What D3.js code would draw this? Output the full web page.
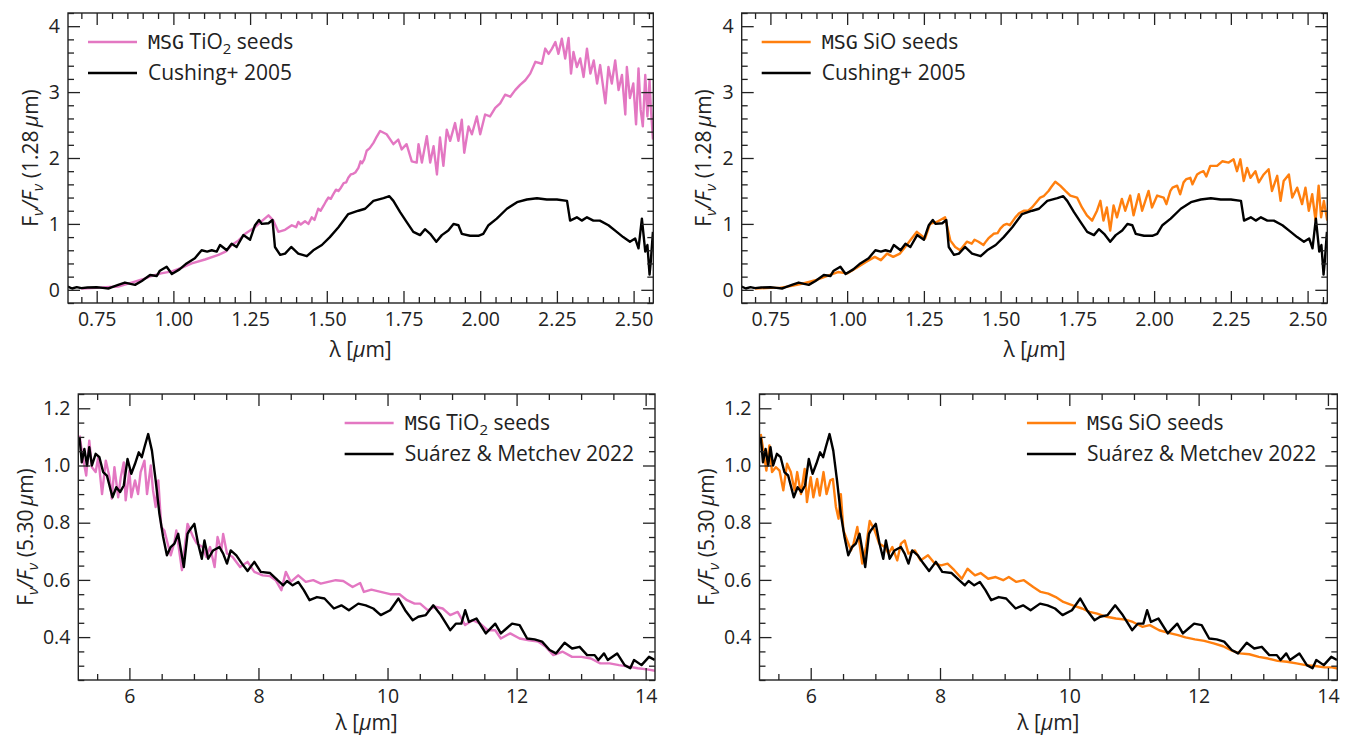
<!DOCTYPE html>
<html>
<head>
<meta charset="utf-8">
<script src="https://cdn.jsdelivr.net/npm/d3@7"></script>
<style>
  body { margin: 0; background: #fff; }
  svg text { font-family: "Open Sans", Lato, "DejaVu Sans", sans-serif; fill: #222; }
  .mono { font-family: "DejaVu Sans Mono", "Liberation Mono", monospace; }
</style>
</head>
<body>
<svg id="fig" width="1349" height="738"></svg>
<script>
// Cushing+ 2005 near-IR spectrum, normalised at 1.28 um  [lambda (um), F]
const cushing2005 = [
  [0.656,0.05],[0.67,0.02],[0.685,0.04],[0.70,0.025],[0.72,0.035],[0.75,0.04],[0.77,0.03],[0.788,0.02],
  [0.80,0.04],[0.82,0.075],[0.842,0.11],[0.86,0.09],[0.875,0.075],[0.897,0.135],[0.924,0.225],[0.946,0.21],
  [0.956,0.29],[0.978,0.35],[0.995,0.24],[1.02,0.31],[1.043,0.40],[1.07,0.48],[1.092,0.60],[1.11,0.58],
  [1.125,0.60],[1.141,0.58],[1.152,0.68],[1.174,0.60],[1.19,0.70],[1.206,0.65],[1.228,0.83],[1.25,0.76],
  [1.266,0.98],[1.279,1.06],[1.288,1.00],[1.31,1.01],[1.323,1.06],[1.331,0.65],[1.348,0.53],[1.364,0.55],
  [1.384,0.65],[1.407,0.55],[1.435,0.51],[1.456,0.60],[1.484,0.68],[1.51,0.80],[1.538,0.95],[1.57,1.15],
  [1.603,1.20],[1.625,1.23],[1.652,1.35],[1.685,1.39],[1.704,1.42],[1.717,1.35],[1.739,1.18],[1.76,1.03],
  [1.782,0.88],[1.804,0.83],[1.82,0.92],[1.837,0.85],[1.857,0.73],[1.875,0.83],[1.896,0.90],[1.913,1.00],
  [1.929,0.98],[1.94,0.85],[1.967,0.82],[1.994,0.82],[2.01,0.85],[2.027,0.98],[2.054,1.08],[2.087,1.23],
  [2.12,1.33],[2.152,1.37],[2.185,1.39],[2.217,1.37],[2.25,1.37],[2.283,1.35],[2.293,1.05],[2.315,1.10],
  [2.331,1.05],[2.348,1.10],[2.369,1.05],[2.39,1.05],[2.418,0.98],[2.445,0.88],[2.466,0.80],[2.488,0.73],
  [2.505,0.78],[2.516,0.63],[2.527,1.08],[2.538,0.58],[2.545,0.68],[2.552,0.23],[2.556,0.43],[2.563,0.88]
];

// MSG model with TiO2 seeds, near-IR
const msgTiO2Nir = [
  [0.70,0.02],[0.75,0.03],[0.78,0.04],[0.82,0.05],[0.864,0.11],[0.90,0.16],[0.929,0.21],[0.96,0.25],
  [0.995,0.28],[1.03,0.34],[1.06,0.40],[1.103,0.46],[1.147,0.53],[1.17,0.58],[1.19,0.68],[1.21,0.74],
  [1.234,0.85],[1.266,0.95],[1.29,1.05],[1.31,1.13],[1.326,1.05],[1.342,0.88],[1.364,0.91],[1.386,0.98],
  [1.40,0.95],[1.407,1.03],[1.415,0.99],[1.429,1.04],[1.44,1.00],[1.451,1.10],[1.46,1.06],[1.472,1.23],
  [1.48,1.20],[1.49,1.28],[1.497,1.34],[1.505,1.40],[1.513,1.38],[1.52,1.44],[1.53,1.52],[1.538,1.50],
  [1.546,1.55],[1.555,1.62],[1.563,1.63],[1.57,1.70],[1.578,1.75],[1.585,1.76],[1.593,1.78],[1.603,1.85],
  [1.61,1.95],[1.615,1.92],[1.622,1.98],[1.63,2.11],[1.64,2.15],[1.652,2.23],[1.66,2.30],[1.674,2.41],
  [1.695,2.36],[1.717,2.21],[1.733,2.28],[1.744,2.13],[1.76,2.21],
  [1.777,1.95],[1.793,1.93],[1.799,2.21],[1.81,1.93],[1.826,2.33],[1.837,1.93],[1.848,2.18],[1.859,1.75],
  [1.869,2.31],[1.88,1.88],[1.891,2.43],[1.902,2.26],[1.918,2.53],[1.929,2.26],[1.94,2.58],[1.948,2.08],
  [1.962,2.48],[1.973,2.36],[1.989,2.63],[2.0,2.36],[2.016,2.66],[2.032,2.63],[2.049,2.76],[2.065,2.83],
  [2.081,2.96],[2.098,2.93],[2.114,3.03],[2.13,3.11],[2.147,3.18],[2.163,3.28],[2.18,3.46],[2.201,3.43],
  [2.212,3.66],[2.223,3.58],[2.234,3.66],[2.245,3.76],[2.255,3.58],[2.266,3.81],[2.277,3.51],[2.288,3.82],
  [2.296,3.28],[2.304,3.61],[2.315,3.38],[2.326,3.51],[2.337,3.23],[2.348,3.66],[2.359,3.28],[2.37,3.48],
  [2.381,3.13],[2.391,3.41],[2.408,2.83],[2.418,3.38],[2.429,3.13],[2.44,3.48],[2.451,3.03],[2.462,3.26],
  [2.473,2.66],[2.478,3.38],[2.488,2.91],[2.499,3.13],[2.508,2.51],[2.516,3.36],[2.523,2.73],[2.53,2.48],
  [2.538,3.26],[2.545,2.63],[2.552,3.18],[2.556,2.78],[2.563,2.28]
];

// MSG model with SiO seeds, near-IR
const msgSiONir = [
  [0.70,0.02],[0.75,0.03],[0.78,0.03],[0.82,0.06],[0.86,0.10],[0.90,0.15],[0.94,0.22],[0.97,0.27],
  [1.0,0.25],[1.03,0.33],[1.06,0.42],[1.09,0.50],[1.11,0.45],[1.13,0.55],[1.15,0.50],[1.172,0.55],
  [1.194,0.68],[1.227,0.88],[1.254,0.78],[1.27,1.00],[1.292,1.03],[1.319,1.10],[1.336,0.75],[1.352,0.65],
  [1.368,0.60],[1.39,0.73],[1.406,0.70],[1.415,0.76],[1.428,0.73],[1.444,0.68],[1.45,0.72],[1.46,0.78],
  [1.47,0.82],[1.477,0.85],[1.49,0.86],[1.499,0.93],[1.51,0.98],[1.52,1.00],[1.53,0.98],[1.548,1.10],
  [1.56,1.16],[1.575,1.20],[1.59,1.20],[1.602,1.25],[1.615,1.32],[1.629,1.40],[1.64,1.42],[1.656,1.50],
  [1.665,1.56],[1.678,1.64],[1.694,1.58],
  [1.711,1.50],[1.727,1.43],[1.749,1.40],[1.765,1.25],[1.781,1.13],[1.798,1.05],[1.814,1.20],[1.825,1.35],
  [1.835,1.05],[1.846,1.25],[1.857,0.90],[1.868,1.28],[1.879,1.10],[1.895,1.38],[1.906,1.20],[1.922,1.43],
  [1.933,1.13],[1.95,1.45],[1.961,1.20],[1.982,1.50],[1.993,1.25],[2.01,1.43],[2.031,1.40],[2.04,1.30],
  [2.053,1.50],[2.06,1.55],[2.075,1.58],[2.085,1.45],[2.096,1.63],[2.105,1.68],[2.118,1.70],[2.125,1.60],
  [2.14,1.75],[2.15,1.78],[2.161,1.80],[2.17,1.72],[2.183,1.88],[2.205,1.88],[2.222,1.95],[2.243,1.93],
  [2.259,1.98],[2.27,1.80],[2.281,1.98],[2.292,1.65],[2.303,1.85],[2.314,1.70],[2.33,1.80],[2.341,1.63],
  [2.357,1.75],[2.373,1.83],[2.384,1.50],[2.401,1.73],[2.412,1.35],[2.422,1.65],[2.439,1.75],[2.45,1.40],
  [2.466,1.55],[2.482,1.30],[2.493,1.55],[2.504,1.20],[2.515,1.45],[2.526,1.05],[2.536,1.58],[2.544,1.10],
  [2.553,1.35],[2.564,1.05]
];

// Suarez & Metchev 2022 mid-IR spectrum, normalised at 5.30 um
const suarez2022 = [
  [5.227,1.099],[5.262,1.011],[5.302,1.058],[5.343,1.0],[5.378,1.064],[5.419,1.0],[5.477,1.041],[5.535,1.029],
  [5.593,0.977],[5.651,0.965],[5.738,0.889],[5.797,0.924],[5.855,0.907],[5.913,0.93],[5.971,1.023],[6.029,0.971],
  [6.087,1.006],[6.145,1.046],[6.192,1.029],[6.233,1.064],[6.291,1.11],[6.349,1.052],[6.407,0.948],[6.465,0.831],
  [6.523,0.75],[6.581,0.686],[6.64,0.715],[6.698,0.727],[6.756,0.761],[6.843,0.645],[6.901,0.761],[6.93,0.773],
  [7.006,0.796],[7.064,0.727],[7.122,0.674],[7.163,0.738],[7.221,0.674],[7.297,0.703],[7.395,0.715],[7.453,0.692],
  [7.512,0.657],[7.57,0.703],[7.657,0.686],[7.744,0.657],[7.831,0.631],[7.936,0.663],[8.035,0.628],[8.18,0.624],
  [8.296,0.599],[8.384,0.581],[8.442,0.596],[8.529,0.581],[8.616,0.593],[8.703,0.564],[8.791,0.529],[8.907,0.54],
  [9.023,0.535],[9.169,0.5],[9.285,0.511],[9.401,0.494],[9.547,0.517],[9.663,0.511],[9.779,0.5],[9.895,0.477],
  [10.041,0.494],[10.169,0.535],[10.273,0.494],[10.39,0.459],[10.477,0.471],[10.593,0.477],[10.709,0.511],[10.826,0.477],
  [10.971,0.424],[11.058,0.447],[11.145,0.447],[11.203,0.494],[11.262,0.453],[11.378,0.465],[11.523,0.413],[11.669,0.447],
  [11.756,0.413],[11.843,0.43],[11.93,0.447],[12.047,0.442],[12.163,0.395],[12.279,0.392],[12.395,0.384],[12.512,0.355],
  [12.61,0.343],[12.744,0.38],[12.86,0.36],[12.977,0.366],[13.093,0.337],[13.21,0.337],[13.267,0.32],[13.355,0.343],
  [13.413,0.32],[13.558,0.343],[13.674,0.302],[13.762,0.291],[13.82,0.32],[13.936,0.302],[14.052,0.331],[14.14,0.32]
];

// MSG model with TiO2 seeds, mid-IR
const msgTiO2Mir = [
  [5.227,1.105],[5.262,1.052],[5.302,1.0],[5.331,0.965],[5.378,1.087],[5.419,0.994],[5.477,0.977],[5.517,1.029],
  [5.576,0.9],[5.634,1.017],[5.692,0.959],[5.727,0.884],[5.768,0.994],[5.826,0.889],[5.866,0.959],[5.913,1.011],
  [5.942,0.878],[6.0,0.982],[6.029,0.889],[6.087,0.948],[6.134,0.9],[6.174,0.977],[6.233,1.017],[6.273,0.9],
  [6.331,1.0],[6.366,0.913],[6.407,0.855],[6.448,0.948],[6.494,0.785],[6.541,0.773],[6.581,0.738],[6.64,0.686],
  [6.698,0.732],[6.727,0.773],[6.814,0.634],[6.901,0.796],[6.988,0.75],[7.046,0.727],[7.134,0.715],[7.192,0.68],
  [7.25,0.715],[7.32,0.645],[7.366,0.75],[7.424,0.703],[7.453,0.761],[7.512,0.692],[7.599,0.68],[7.715,0.645],
  [7.831,0.663],[7.936,0.628],[8.064,0.616],[8.18,0.613],[8.267,0.599],[8.355,0.564],[8.424,0.628],[8.5,0.593],
  [8.616,0.616],[8.733,0.593],[8.849,0.599],[8.965,0.587],[9.081,0.593],[9.198,0.599],[9.314,0.596],[9.459,0.575],
  [9.576,0.589],[9.634,0.558],[9.75,0.566],[9.895,0.558],[10.041,0.55],[10.186,0.55],[10.302,0.529],[10.419,0.517],
  [10.506,0.517],[10.622,0.494],[10.738,0.506],[10.855,0.5],[10.971,0.477],[11.087,0.488],[11.203,0.442],[11.32,0.459],
  [11.436,0.447],[11.552,0.424],[11.669,0.424],[11.756,0.395],[11.901,0.413],[12.047,0.395],[12.192,0.389],[12.337,0.384],
  [12.453,0.366],[12.57,0.337],[12.715,0.349],[12.86,0.331],[13.006,0.331],[13.151,0.325],[13.297,0.308],[13.442,0.308],
  [13.587,0.302],[13.762,0.296],[13.878,0.291],[14.023,0.287],[14.157,0.282]
];

// MSG model with SiO seeds, mid-IR
const msgSiOMir = [
  [5.227,1.11],[5.268,1.052],[5.314,0.982],[5.361,1.07],[5.402,0.977],[5.46,0.994],[5.518,0.982],[5.576,0.913],
  [5.634,1.006],[5.692,0.977],[5.75,0.913],[5.791,0.977],[5.849,0.9],[5.907,0.988],[5.942,0.872],[6.0,0.959],
  [6.041,0.889],[6.099,0.953],[6.14,0.895],[6.198,0.977],[6.245,0.9],[6.303,0.948],[6.343,0.953],[6.39,0.855],
  [6.431,0.814],[6.466,0.9],[6.506,0.773],[6.564,0.738],[6.623,0.703],[6.663,0.727],[6.721,0.785],[6.797,0.657],
  [6.855,0.715],[6.913,0.806],[6.989,0.773],[7.059,0.727],[7.146,0.715],[7.204,0.692],[7.262,0.715],[7.338,0.668],
  [7.396,0.727],[7.454,0.738],[7.512,0.692],[7.611,0.703],[7.698,0.668],[7.814,0.686],[7.919,0.657],[8.018,0.651],
  [8.117,0.657],[8.221,0.634],[8.338,0.604],[8.425,0.639],[8.541,0.616],[8.628,0.624],[8.745,0.604],[8.861,0.61],
  [8.977,0.599],[9.064,0.61],[9.181,0.593],[9.297,0.599],[9.442,0.575],[9.558,0.558],[9.675,0.552],[9.791,0.54],
  [9.907,0.523],[10.053,0.511],[10.198,0.5],[10.314,0.488],[10.431,0.482],[10.576,0.471],[10.721,0.465],[10.867,0.461],
  [10.983,0.453],[11.128,0.436],[11.245,0.442],[11.39,0.424],[11.535,0.415],[11.681,0.407],[11.797,0.399],[11.942,0.392],
  [12.088,0.387],[12.233,0.378],[12.378,0.368],[12.524,0.352],[12.64,0.343],[12.785,0.34],[12.931,0.331],[13.076,0.325],
  [13.222,0.317],[13.367,0.314],[13.512,0.308],[13.658,0.302],[13.803,0.299],[13.948,0.294],[14.064,0.294],[14.151,0.29]
];

const nirXTicks = [0.75, 1.00, 1.25, 1.50, 1.75, 2.00, 2.25, 2.50];
const nirYTicks = [0, 1, 2, 3, 4];
const mirXTicks = [6, 8, 10, 12, 14];
const mirYTicks = [0.4, 0.6, 0.8, 1.0, 1.2];

const pink = '#e377c2';
const orange = '#ff7f0e';

const panels = [
  { x0: 68, x1: 653.3, y0: 13, y1: 303, xDomain: [0.6565, 2.5642], yDomain: [-0.2, 4.2],
    xMajor: nirXTicks, xStep: 0.05, yMajor: nirYTicks, yStep: 0.2, xFmt: d3.format('.2f'), yFmt: d3.format('d'),
    model: msgTiO2Nir, color: pink, seed: ['TiO', '2'], obs: cushing2005, obsName: 'Cushing+ 2005',
    norm: '1.28', legendRight: false, ylabelX: 31, xlabelDy: 47 },
  { x0: 741.7, x1: 1327.3, y0: 13, y1: 303, xDomain: [0.6565, 2.5642], yDomain: [-0.2, 4.2],
    xMajor: nirXTicks, xStep: 0.05, yMajor: nirYTicks, yStep: 0.2, xFmt: d3.format('.2f'), yFmt: d3.format('d'),
    model: msgSiONir, color: orange, seed: ['SiO', ''], obs: cushing2005, obsName: 'Cushing+ 2005',
    norm: '1.28', legendRight: false, ylabelX: 704, xlabelDy: 47 },
  { x0: 78.3, x1: 655, y0: 394, y1: 680, xDomain: [5.208, 14.145], yDomain: [0.25, 1.25],
    xMajor: mirXTicks, xStep: 0.5, yMajor: mirYTicks, yStep: 0.05, xFmt: d3.format('d'), yFmt: d3.format('.1f'),
    model: msgTiO2Mir, color: pink, seed: ['TiO', '2'], obs: suarez2022, obsName: 'Suárez & Metchev 2022',
    norm: '5.30', legendRight: true, ylabelX: 26, xlabelDy: 43 },
  { x0: 759.5, x1: 1337.3, y0: 394, y1: 680, xDomain: [5.208, 14.145], yDomain: [0.25, 1.25],
    xMajor: mirXTicks, xStep: 0.5, yMajor: mirYTicks, yStep: 0.05, xFmt: d3.format('d'), yFmt: d3.format('.1f'),
    model: msgSiOMir, color: orange, seed: ['SiO', ''], obs: suarez2022, obsName: 'Suárez & Metchev 2022',
    norm: '5.30', legendRight: true, ylabelX: 707, xlabelDy: 43 }
];

const svg = d3.select('#fig');
const fontSize = 21;
const tickFont = 19.5;

const minorTicks = (domain, step, majors) =>
  d3.range(Math.ceil(domain[0] / step - 1e-9), Math.floor(domain[1] / step + 1e-9) + 1)
    .map((k) => +(k * step).toFixed(4))
    .filter((v) => !majors.some((m) => Math.abs(m - v) < step / 10));

const styleAxis = (g) => {
  g.attr('font-family', null).attr('font-size', null);
  g.select('.domain').remove();
  g.selectAll('.tick line').attr('stroke', '#222').attr('stroke-width', 1.3);
  g.selectAll('.tick text').attr('font-size', tickFont).attr('fill', '#222');
};

panels.forEach((p, i) => {
  const x = d3.scaleLinear().domain(p.xDomain).range([p.x0, p.x1]);
  const y = d3.scaleLinear().domain(p.yDomain).range([p.y1, p.y0]);
  const g = svg.append('g');

  svg.append('clipPath').attr('id', 'clip' + i)
    .append('rect')
    .attr('x', p.x0).attr('y', p.y0)
    .attr('width', p.x1 - p.x0).attr('height', p.y1 - p.y0);

  const line = d3.line().x((d) => x(d[0])).y((d) => y(d[1]));
  const plot = g.append('g').attr('clip-path', `url(#clip${i})`);
  plot.append('path').datum(p.model).attr('d', line)
    .attr('fill', 'none').attr('stroke', p.color).attr('stroke-width', 2.4).attr('stroke-linejoin', 'round');
  plot.append('path').datum(p.obs).attr('d', line)
    .attr('fill', 'none').attr('stroke', '#000').attr('stroke-width', 2.4).attr('stroke-linejoin', 'round');

  const xMinor = minorTicks(p.xDomain, p.xStep, p.xMajor);
  const yMinor = minorTicks(p.yDomain, p.yStep, p.yMajor);

  // major + minor ticks, pointing inward on all four sides
  g.append('g').attr('transform', `translate(0,${p.y1})`)
    .call(d3.axisBottom(x).tickValues(p.xMajor).tickSize(-12).tickPadding(9).tickFormat(p.xFmt)).call(styleAxis);
  g.append('g').attr('transform', `translate(0,${p.y1})`)
    .call(d3.axisBottom(x).tickValues(xMinor).tickSize(-6).tickFormat('')).call(styleAxis);
  g.append('g').attr('transform', `translate(0,${p.y0})`)
    .call(d3.axisTop(x).tickValues(p.xMajor).tickSize(-12).tickFormat('')).call(styleAxis);
  g.append('g').attr('transform', `translate(0,${p.y0})`)
    .call(d3.axisTop(x).tickValues(xMinor).tickSize(-6).tickFormat('')).call(styleAxis);

  g.append('g').attr('transform', `translate(${p.x0},0)`)
    .call(d3.axisLeft(y).tickValues(p.yMajor).tickSize(-12).tickPadding(8).tickFormat(p.yFmt)).call(styleAxis);
  g.append('g').attr('transform', `translate(${p.x0},0)`)
    .call(d3.axisLeft(y).tickValues(yMinor).tickSize(-6).tickFormat('')).call(styleAxis);
  g.append('g').attr('transform', `translate(${p.x1},0)`)
    .call(d3.axisRight(y).tickValues(p.yMajor).tickSize(-12).tickFormat('')).call(styleAxis);
  g.append('g').attr('transform', `translate(${p.x1},0)`)
    .call(d3.axisRight(y).tickValues(yMinor).tickSize(-6).tickFormat('')).call(styleAxis);

  g.append('rect')
    .attr('x', p.x0).attr('y', p.y0)
    .attr('width', p.x1 - p.x0).attr('height', p.y1 - p.y0)
    .attr('fill', 'none').attr('stroke', '#222').attr('stroke-width', 1.4);

  // axis labels
  g.append('text')
    .attr('x', (p.x0 + p.x1) / 2).attr('y', p.y1 + p.xlabelDy).attr('dy', '0.35em')
    .attr('text-anchor', 'middle').attr('font-size', fontSize)
    .call((t) => {
      t.append('tspan').text('λ [');
      t.append('tspan').attr('font-style', 'italic').text('µ');
      t.append('tspan').text('m]');
    });

  g.append('text')
    .attr('transform', `translate(${p.ylabelX},${(p.y0 + p.y1) / 2}) rotate(-90)`)
    .attr('dy', '0.35em').attr('text-anchor', 'middle').attr('font-size', fontSize)
    .call((t) => {
      t.append('tspan').text('F');
      t.append('tspan').attr('font-style', 'italic').attr('font-size', 15).attr('dy', 5).text('ν');
      t.append('tspan').attr('font-style', 'italic').attr('dy', -5).text('/F');
      t.append('tspan').attr('font-style', 'italic').attr('font-size', 15).attr('dy', 5).text('ν');
      t.append('tspan').attr('dy', -5).text(` (${p.norm}\u2009`);
      t.append('tspan').attr('font-style', 'italic').text('µ');
      t.append('tspan').text('m)');
    });

  // legend
  const rowsY = [p.y0 + 29, p.y0 + 60];
  const lg = g.append('g');
  const modelText = lg.append('text').attr('y', rowsY[0]).attr('dy', '0.35em').attr('font-size', fontSize);
  modelText.append('tspan').attr('class', 'mono').attr('font-size', 20).text('MSG');
  modelText.append('tspan').text(' ' + p.seed[0]);
  if (p.seed[1]) {
    modelText.append('tspan').attr('font-size', 15).attr('dy', 5).text(p.seed[1]);
    modelText.append('tspan').attr('dy', -5).text(' seeds');
  } else {
    modelText.append('tspan').text(' seeds');
  }
  const obsText = lg.append('text').attr('y', rowsY[1]).attr('dy', '0.35em').attr('font-size', fontSize).text(p.obsName);

  const textW = Math.max(modelText.node().getComputedTextLength(), obsText.node().getComputedTextLength());
  const textX = p.legendRight ? p.x1 - 21 - textW : p.x0 + 80;
  const lineX = textX - 60;
  modelText.attr('x', textX);
  obsText.attr('x', textX);
  lg.append('line').attr('x1', lineX).attr('x2', lineX + 49).attr('y1', rowsY[0]).attr('y2', rowsY[0])
    .attr('stroke', p.color).attr('stroke-width', 2.4);
  lg.append('line').attr('x1', lineX).attr('x2', lineX + 49).attr('y1', rowsY[1]).attr('y2', rowsY[1])
    .attr('stroke', '#000').attr('stroke-width', 2.4);
});
</script>
</body>
</html>
